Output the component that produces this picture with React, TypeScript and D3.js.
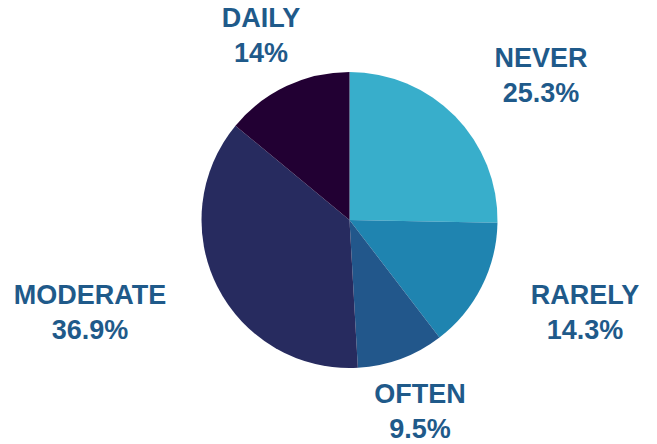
import React from "react";
import * as d3 from "d3";

const categories = ["NEVER", "RARELY", "OFTEN", "MODERATE", "DAILY"];
const values = [25.3, 14.3, 9.5, 36.9, 14];
const valueLabels = ["25.3%", "14.3%", "9.5%", "36.9%", "14%"];
const colors = ["#38AECB", "#1F84B0", "#22578B", "#272B5F", "#220033"];
// label anchor positions (center x, first-line baseline)
const labelPos: [number, number][] = [
  [541, 67],
  [585, 304],
  [420, 403],
  [90, 304],
  [261, 27],
];

export default function App() {
  const W = 657, H = 444;
  const cx = 349.5, cy = 220, r = 148;
  const pie = d3.pie<number>().sort(null).value((d) => d);
  const arcs = pie(values);
  const arc = d3.arc<d3.PieArcDatum<number>>().innerRadius(0).outerRadius(r);
  return (
    <svg width={W} height={H} style={{ position: "absolute", left: 0, top: 0, background: "#fff" }}>
      <g transform={`translate(${cx},${cy})`}>
        {arcs.map((a, i) => (
          <path key={i} d={arc(a) || ""} fill={colors[i]} />
        ))}
      </g>
      {categories.map((c, i) => (
        <text
          key={c}
          x={labelPos[i][0]}
          y={labelPos[i][1]}
          textAnchor="middle"
          fontFamily="Liberation Sans, Arial, sans-serif"
          fontWeight="bold"
          fontSize={27}
          fill="#1F5A8A"
        >
          <tspan x={labelPos[i][0]}>{c}</tspan>
          <tspan x={labelPos[i][0]} dy={35}>{valueLabels[i]}</tspan>
        </text>
      ))}
    </svg>
  );
}
